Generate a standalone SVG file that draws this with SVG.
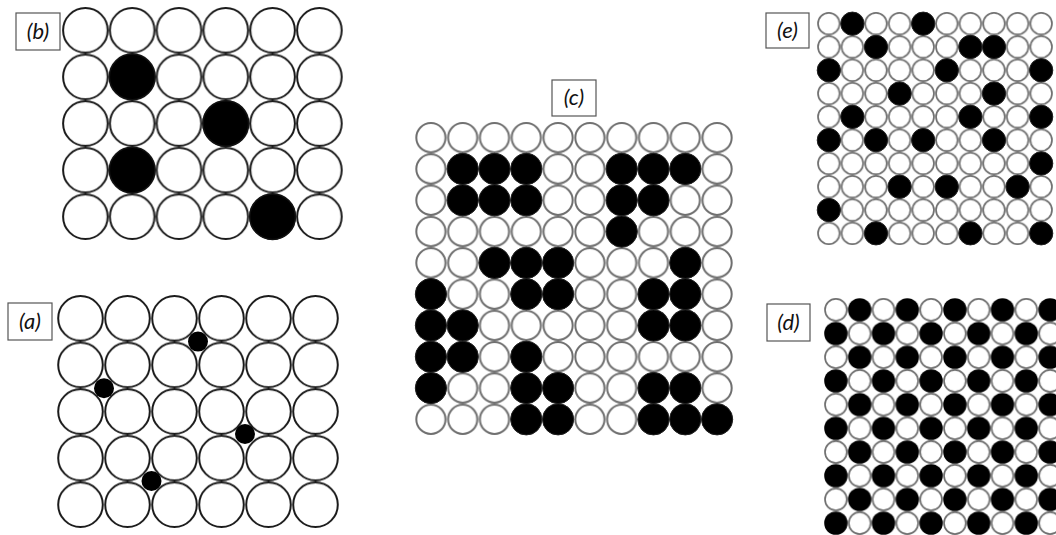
<svg xmlns="http://www.w3.org/2000/svg" width="1056" height="535" viewBox="0 0 1056 535">
<style>
.lbl rect{fill:#fff;stroke:#555;stroke-width:1.2}
.lbl text{font-family:Lato,"Open Sans","Liberation Sans",sans-serif;font-style:italic;font-size:22px;fill:#111;text-anchor:middle}
.kb{fill:#000;stroke:#111;stroke-width:1.5}
.kc{fill:#000;stroke:#222;stroke-width:1}
.dot{fill:#000}
</style>
<defs>
<pattern id="pb" patternUnits="userSpaceOnUse" x="62" y="7" width="46.8" height="46.6">
<circle cx="23.4" cy="23.3" r="22.3" fill="#fff" stroke="#1a1a1a" stroke-width="2"/>
</pattern>
<pattern id="pa" patternUnits="userSpaceOnUse" x="57" y="295" width="47" height="46.6">
<circle cx="23.5" cy="23.3" r="22.3" fill="#fff" stroke="#1a1a1a" stroke-width="2"/>
</pattern>
<pattern id="pc" patternUnits="userSpaceOnUse" x="415" y="122" width="31.8" height="31.3">
<circle cx="15.9" cy="15.65" r="14.6" fill="#fff" stroke="#6e6e6e" stroke-width="2"/>
</pattern>
<pattern id="pe" patternUnits="userSpaceOnUse" x="817" y="12" width="23.6" height="23.3">
<circle cx="11.8" cy="11.65" r="10.8" fill="#fff" stroke="#707070" stroke-width="1.7"/>
</pattern>
<pattern id="pd" patternUnits="userSpaceOnUse" x="824" y="298" width="47.6" height="47.4">
<circle cx="11.9" cy="11.85" r="10.9" fill="#fff" stroke="#707070" stroke-width="1.7"/>
<circle cx="35.7" cy="35.55" r="10.9" fill="#fff" stroke="#707070" stroke-width="1.7"/>
<circle cx="35.7" cy="11.85" r="11.7" fill="#000"/>
<circle cx="11.9" cy="35.55" r="11.7" fill="#000"/>
</pattern>
</defs>
<rect width="1056" height="535" fill="#fff"/>

<g id="panel-b">
<rect x="62" y="7" width="280.8" height="233" fill="url(#pb)"/>
<circle class="kb" cx="132.2" cy="76.9" r="22.8"/>
<circle class="kb" cx="225.8" cy="123.5" r="22.8"/>
<circle class="kb" cx="132.2" cy="170.1" r="22.8"/>
<circle class="kb" cx="272.6" cy="216.7" r="22.8"/>
<g class="lbl"><rect x="16" y="13" width="44" height="37"/><text x="38" y="39">(b)</text></g>
</g>

<g id="panel-a">
<rect x="57" y="295" width="282" height="233" fill="url(#pa)"/>
<circle class="dot" cx="198" cy="341.6" r="10"/>
<circle class="dot" cx="104" cy="388.2" r="10"/>
<circle class="dot" cx="245" cy="434" r="10"/>
<circle class="dot" cx="151.5" cy="481" r="10"/>
<g class="lbl"><rect x="8" y="303" width="44" height="37"/><text x="30" y="329">(a)</text></g>
</g>

<g id="panel-c">
<rect x="415" y="122" width="318" height="313" fill="url(#pc)"/>
<g class="kc">
<circle cx="462.7" cy="168.95" r="15.6"/><circle cx="494.5" cy="168.95" r="15.6"/><circle cx="526.3" cy="168.95" r="15.6"/><circle cx="621.7" cy="168.95" r="15.6"/><circle cx="653.5" cy="168.95" r="15.6"/><circle cx="685.3" cy="168.95" r="15.6"/>
<circle cx="462.7" cy="200.25" r="15.6"/><circle cx="494.5" cy="200.25" r="15.6"/><circle cx="526.3" cy="200.25" r="15.6"/><circle cx="621.7" cy="200.25" r="15.6"/><circle cx="653.5" cy="200.25" r="15.6"/>
<circle cx="621.7" cy="231.55" r="15.6"/>
<circle cx="494.5" cy="262.85" r="15.6"/><circle cx="526.3" cy="262.85" r="15.6"/><circle cx="558.1" cy="262.85" r="15.6"/><circle cx="685.3" cy="262.85" r="15.6"/>
<circle cx="430.9" cy="294.15" r="15.6"/><circle cx="526.3" cy="294.15" r="15.6"/><circle cx="558.1" cy="294.15" r="15.6"/><circle cx="653.5" cy="294.15" r="15.6"/><circle cx="685.3" cy="294.15" r="15.6"/>
<circle cx="430.9" cy="325.45" r="15.6"/><circle cx="462.7" cy="325.45" r="15.6"/><circle cx="653.5" cy="325.45" r="15.6"/><circle cx="685.3" cy="325.45" r="15.6"/>
<circle cx="430.9" cy="356.75" r="15.6"/><circle cx="462.7" cy="356.75" r="15.6"/><circle cx="526.3" cy="356.75" r="15.6"/>
<circle cx="430.9" cy="388.05" r="15.6"/><circle cx="526.3" cy="388.05" r="15.6"/><circle cx="558.1" cy="388.05" r="15.6"/><circle cx="653.5" cy="388.05" r="15.6"/><circle cx="685.3" cy="388.05" r="15.6"/>
<circle cx="526.3" cy="419.35" r="15.6"/><circle cx="558.1" cy="419.35" r="15.6"/><circle cx="653.5" cy="419.35" r="15.6"/><circle cx="685.3" cy="419.35" r="15.6"/><circle cx="717.1" cy="419.35" r="15.6"/>
</g>
<g class="lbl"><rect x="552" y="80" width="44" height="36"/><text x="574" y="105">(c)</text></g>
</g>

<g id="panel-e">
<rect x="817" y="12" width="236" height="233" fill="url(#pe)"/>
<g class="kc">
<circle cx="852.4" cy="23.65" r="11.6"/><circle cx="923.2" cy="23.65" r="11.6"/>
<circle cx="876" cy="46.95" r="11.6"/><circle cx="970.4" cy="46.95" r="11.6"/><circle cx="994" cy="46.95" r="11.6"/>
<circle cx="828.8" cy="70.25" r="11.6"/><circle cx="946.8" cy="70.25" r="11.6"/><circle cx="1041.2" cy="70.25" r="11.6"/>
<circle cx="899.6" cy="93.55" r="11.6"/><circle cx="994" cy="93.55" r="11.6"/>
<circle cx="852.4" cy="116.85" r="11.6"/><circle cx="970.4" cy="116.85" r="11.6"/><circle cx="1041.2" cy="116.85" r="11.6"/>
<circle cx="828.8" cy="140.15" r="11.6"/><circle cx="876" cy="140.15" r="11.6"/><circle cx="923.2" cy="140.15" r="11.6"/><circle cx="994" cy="140.15" r="11.6"/>
<circle cx="1041.2" cy="163.45" r="11.6"/>
<circle cx="899.6" cy="186.75" r="11.6"/><circle cx="946.8" cy="186.75" r="11.6"/><circle cx="1017.6" cy="186.75" r="11.6"/>
<circle cx="828.8" cy="210.05" r="11.6"/>
<circle cx="876" cy="233.35" r="11.6"/><circle cx="970.4" cy="233.35" r="11.6"/><circle cx="1041.2" cy="233.35" r="11.6"/>
</g>
<g class="lbl"><rect x="766" y="13" width="43" height="35"/><text x="787.5" y="38">(e)</text></g>
</g>

<g id="panel-d">
<rect x="824" y="298" width="232" height="237" fill="url(#pd)"/>
<g class="lbl"><rect x="767" y="304" width="43" height="37"/><text x="788.5" y="330">(d)</text></g>
</g>
</svg>
